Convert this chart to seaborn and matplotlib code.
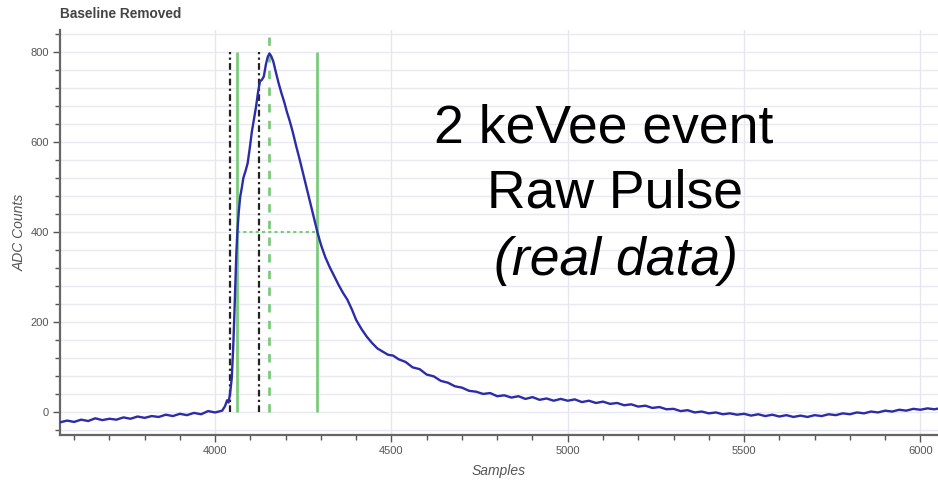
import matplotlib
matplotlib.use("Agg")
import matplotlib.pyplot as plt
from matplotlib.ticker import MultipleLocator
import seaborn as sns
import pandas as pd

# Baseline-subtracted digitizer trace (sample index, ADC counts)
samples = [
    3560, 3580, 3600, 3620, 3640, 3660, 3680, 3700, 3720, 3740, 3760, 3780,
    3800, 3820, 3840, 3860, 3880, 3900, 3920, 3940, 3960, 3980, 4000, 4010,
    4020, 4028, 4034, 4038, 4042, 4047, 4051, 4054, 4057, 4060, 4063, 4067,
    4071, 4076, 4080, 4086, 4092, 4098, 4104, 4110, 4116, 4122, 4127, 4133,
    4138, 4144, 4149, 4154, 4159, 4165, 4172, 4180, 4188, 4196, 4204, 4212,
    4220, 4230, 4240, 4250, 4260, 4270, 4280, 4290, 4300, 4312, 4325, 4338,
    4350, 4362, 4375, 4388, 4400, 4415, 4430, 4445, 4460, 4475, 4490, 4505,
    4520, 4540, 4560, 4580, 4600, 4620, 4640, 4660, 4680, 4700, 4720, 4740,
    4760, 4780, 4800, 4820, 4840, 4860, 4880, 4900, 4920, 4940, 4960, 4980,
    5000, 5020, 5040, 5060, 5080, 5100, 5120, 5140, 5160, 5180, 5200, 5220,
    5240, 5260, 5280, 5300, 5320, 5340, 5360, 5380, 5400, 5420, 5440, 5460,
    5480, 5500, 5520, 5540, 5560, 5580, 5600, 5620, 5640, 5660, 5680, 5700,
    5720, 5740, 5760, 5780, 5800, 5820, 5840, 5860, 5880, 5900, 5920, 5940,
    5960, 5980, 6000, 6020, 6040, 6060,
]
adc_counts = [
    -22, -18, -21, -16, -19, -13, -17, -14, -16, -11, -14, -9,
    -12, -8, -10, -5, -8, -3, -6, -1, -4, 3, 0, 2,
    4, 14, 27, 22, 40, 75, 140, 205, 280, 350, 400, 445,
    478, 500, 520, 535, 552, 585, 622, 650, 678, 712, 734, 738,
    745, 772, 788, 796, 790, 778, 755, 730, 708, 688, 665, 645,
    622, 590, 560, 528, 497, 465, 432, 400, 372, 345, 322, 302,
    283, 266, 250, 228, 205, 185, 168, 154, 142, 135, 128, 126,
    118, 112, 100, 96, 84, 80, 70, 66, 58, 55, 48, 46,
    41, 43, 36, 38, 33, 36, 30, 34, 28, 31, 26, 30,
    26, 29, 23, 26, 21, 24, 19, 21, 16, 18, 13, 15,
    10, 12, 7, 8, 3, 5, 0, 2, -2, 0, -4, -2,
    -5, -3, -7, -4, -8, -5, -9, -6, -10, -7, -10, -6,
    -8, -4, -6, -2, -4, 0, -2, 2, 0, 4, 2, 6,
    4, 8, 6, 9, 7, 10,
]

# Timing markers (sample positions)
window_edges = [4042, 4123]        # dash-dot integration window
half_max_edges = [4063, 4290]      # solid lines where pulse crosses half height
peak_position = 4154               # dashed line through the maximum
half_max_level = 400

sns.set_theme(style="white")
plt.rcParams["font.family"] = ["Liberation Sans", "DejaVu Sans"]

fig = plt.figure(figsize=(9.38, 4.82), dpi=100)
ax = fig.add_axes([60 / 938, 1 - 435 / 482, 1 - 60 / 938, (435 - 30) / 482])

df = pd.DataFrame({"Samples": samples, "ADC Counts": adc_counts})

green = "#7ccb7c"
ax.vlines(window_edges, 0, 800, colors="#222222", linestyles=(0, (3, 1.5, 1, 1.5)),
          linewidth=1.6, zorder=3)
ax.vlines(half_max_edges, 0, 800, colors=green, linestyles="solid", linewidth=2.0, zorder=3)
ax.vlines([peak_position], 0, 835, colors=green, linestyles=(0, (3, 3)), linewidth=2.0, zorder=3)
ax.hlines([half_max_level], half_max_edges[0], half_max_edges[1], colors=green,
          linestyles=(0, (1.5, 1.5)), linewidth=1.5, zorder=3)

sns.lineplot(data=df, x="Samples", y="ADC Counts", ax=ax, color="#2c2ca8",
             linewidth=1.7, zorder=4)

ax.set_xlim(3560, 6050)
ax.set_ylim(-50, 848)

ax.xaxis.set_major_locator(MultipleLocator(500))
ax.xaxis.set_minor_locator(MultipleLocator(100))
ax.yaxis.set_major_locator(MultipleLocator(200))
ax.yaxis.set_minor_locator(MultipleLocator(40))

ax.grid(True, axis="x", which="major", color="#e6e6ee", linewidth=1.0)
ax.grid(True, axis="y", which="both", color="#e9e9f4", linewidth=1.0)
ax.set_axisbelow(True)

for side in ("top", "right"):
    ax.spines[side].set_visible(False)
for side in ("left", "bottom"):
    ax.spines[side].set_color("#666666")
    ax.spines[side].set_linewidth(1.6)

ax.tick_params(which="both", direction="out", colors="#555555", labelsize=8,
               bottom=True, left=True, width=1.0)
ax.tick_params(which="major", length=5, pad=3)
ax.tick_params(which="minor", length=3.5)

ax.set_xlabel("Samples", fontsize=10, style="italic", color="#555555", labelpad=6)
ax.set_ylabel("ADC Counts", fontsize=10, style="italic", color="#555555", labelpad=3)

fig.text(60 / 938, 1 - 14 / 482, "Baseline Removed", fontsize=9.8, fontweight="bold",
         color="#444444", ha="left", va="center")

big = dict(fontsize=38.5, color="black", ha="left", va="baseline")
fig.text(434 / 938, 1 - 142 / 482, "2 keVee event", **big)
fig.text(487 / 938, 1 - 208 / 482, "Raw Pulse", **big)
fig.text(494 / 938, 1 - 275 / 482, "(real data)", style="italic", **big)

fig.savefig("out.png", dpi=100)
